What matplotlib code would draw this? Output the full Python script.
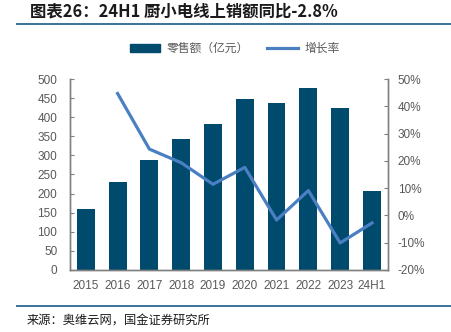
import numpy as np
import matplotlib.pyplot as plt
from matplotlib.lines import Line2D
from matplotlib.patches import Patch

plt.rcParams['font.family'] = ['Liberation Sans', 'Noto Sans CJK SC', 'DejaVu Sans']

# Retail sales of small kitchen appliances online (100m yuan) and YoY growth
years = ["2015", "2016", "2017", "2018", "2019", "2020", "2021", "2022", "2023", "24H1"]
sales = [159, 231, 289, 343, 381, 447, 438, 476, 425, 207]
growth = [np.nan, 44.7, 24.3, 19.3, 11.4, 17.6, -1.7, 9.1, -10.1, -2.8]

bar_color = "#004a6e"
line_color = "#4a80c2"
text_color = "#595959"
rule_color = "#3a7299"

fig = plt.figure(figsize=(4.51, 3.32), dpi=100)
ax = fig.add_axes([0.155, 0.187, 0.705, 0.575])
ax2 = ax.twinx()

x = np.arange(len(years))
ax.bar(x, sales, width=0.56, color=bar_color, zorder=2)
ax2.plot(x, growth, color=line_color, linewidth=2.3, zorder=3)

ax.set_xlim(-0.5, len(years) - 0.5)
ax.set_ylim(0, 500)
ax.set_yticks(np.arange(0, 501, 50))
ax2.set_ylim(-20, 50)
ax2.set_yticks(np.arange(-20, 51, 10))
ax2.set_yticklabels([f"{v}%" for v in range(-20, 51, 10)])
ax.set_xticks(x)
ax.set_xticklabels(years)

for a in (ax, ax2):
    a.spines['top'].set_visible(False)
    for s in ('left', 'right', 'bottom'):
        a.spines[s].set_color("#808080")
        a.spines[s].set_linewidth(1.0)
    a.tick_params(axis='y', direction='in', length=3, color="#808080",
                  labelsize=8.5, labelcolor=text_color)
ax.tick_params(axis='y', pad=9)
ax2.tick_params(axis='y', pad=7)
ax.tick_params(axis='x', length=0, labelsize=8.5, labelcolor=text_color, pad=7)
ax.set_zorder(ax2.get_zorder() - 1)
ax.patch.set_visible(True)
ax2.patch.set_visible(False)

# legend above the plot
handles = [Patch(color=bar_color), Line2D([0], [0], color=line_color, linewidth=2.3)]
fig.legend(handles, ["零售额（亿元）", "增长率"], loc='center', bbox_to_anchor=(0.52, 0.852),
           ncol=2, frameon=False, fontsize=8.5, labelcolor=text_color,
           handlelength=2.6, handleheight=0.6, columnspacing=1.6, handletextpad=0.5)

# title, rules and source
fig.text(0.066, 0.965, "图表26：24H1 厨小电线上销额同比-2.8%", fontsize=11.8, fontweight='bold',
         style='italic', color="#1a1a1a", va='center', ha='left',
         family=['Noto Sans CJK SC', 'DejaVu Sans'])
fig.add_artist(Line2D([0.038, 1.0], [0.927, 0.927], color=rule_color, linewidth=1.4))
fig.add_artist(Line2D([0.038, 1.0], [0.079, 0.079], color=rule_color, linewidth=1.4))
fig.text(0.06, 0.033, "来源：奥维云网，国金证券研究所", fontsize=8.8, color="#1a1a1a",
         va='center', ha='left', family=['Noto Sans CJK SC', 'DejaVu Sans'])

fig.savefig("out.png", dpi=100)
